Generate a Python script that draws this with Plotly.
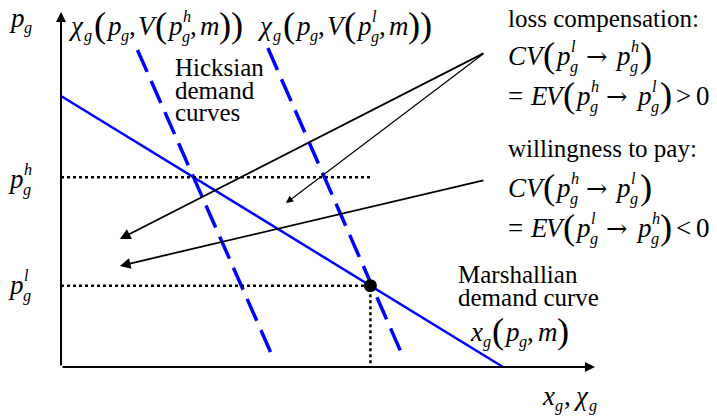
import plotly.graph_objects as go

# Marshallian demand: p = 10 - x
marsh_x = [0, 10]
marsh_p = [10, 0]

# Hicksian (compensated) demand curves at the two utility levels
hicks_h_x = [1.73, 4.82]
hicks_h_p = [11.7, 0.26]
hicks_l_x = [4.68, 7.74]
hicks_l_p = [11.77, 0.37]

# Price levels and the chosen quantity at the low price
p_high = 7
p_low = 3
x_high = 7
x_low = 7

# Pointer arrows from the welfare labels
arrow_tail_x = [9.59, 9.59, 9.59]
arrow_tail_p = [11.6, 11.6, 6.9]
arrow_head_x = [1.33, 5.09, 1.33]
arrow_head_p = [4.72, 6.05, 3.73]
arrow_width = [1.8, 1.2, 1.8]

W, H = 717, 416
# pixel position of the origin and pixels per unit
ox, oy = 61, 367
sx, sy = 44.2, 27.1
x_range = [-ox / sx, (W - ox) / sx]
y_range = [-(H - oy) / sy, oy / sy]

FONT = "Liberation Serif"
ARROW_FONT = "DejaVu Serif"
BLUE = "#0000ff"

fig = go.Figure()

fig.add_trace(go.Scatter(x=marsh_x, y=marsh_p, mode="lines",
                         line=dict(color=BLUE, width=2.5)))
fig.add_trace(go.Scatter(x=hicks_h_x, y=hicks_h_p, mode="lines",
                         line=dict(color=BLUE, width=3.5, dash="24px,10px")))
fig.add_trace(go.Scatter(x=hicks_l_x, y=hicks_l_p, mode="lines",
                         line=dict(color=BLUE, width=3.5, dash="24px,10px")))

# dotted guide lines
fig.add_trace(go.Scatter(x=[0, x_high], y=[p_high, p_high], mode="lines",
                         line=dict(color="black", width=2.5, dash="dot")))
fig.add_trace(go.Scatter(x=[0, x_low, x_low], y=[p_low, p_low, 0], mode="lines",
                         line=dict(color="black", width=2.5, dash="dot")))
fig.add_trace(go.Scatter(x=[x_low], y=[p_low], mode="markers",
                         marker=dict(color="black", size=13)))

annotations = []

# axes with arrow heads
annotations.append(dict(x=0, y=13.1, ax=0, ay=0, xref="x", yref="y",
                        axref="x", ayref="y", showarrow=True, arrowhead=2,
                        arrowsize=1, arrowwidth=2, arrowcolor="black", text=""))
annotations.append(dict(x=12.08, y=0, ax=0, ay=0, xref="x", yref="y",
                        axref="x", ayref="y", showarrow=True, arrowhead=2,
                        arrowsize=1, arrowwidth=2, arrowcolor="black", text=""))

for tx, tp, hx, hp, w in zip(arrow_tail_x, arrow_tail_p, arrow_head_x,
                             arrow_head_p, arrow_width):
    annotations.append(dict(x=hx, y=hp, ax=tx, ay=tp, xref="x", yref="y",
                            axref="x", ayref="y", showarrow=True, arrowhead=2,
                            arrowsize=1.2, arrowwidth=w, arrowcolor="black",
                            text=""))


def put(text, px, base, size, family=FONT):
    """Place a text run so that its baseline sits at pixel row `base`."""
    cy = base - 0.34 * size
    annotations.append(dict(text=text, x=px / W, y=1 - cy / H, xref="paper",
                            yref="paper", showarrow=False, xanchor="left",
                            yanchor="middle", borderpad=0, borderwidth=0,
                            font=dict(family=family, size=size, color="black")))


# glyph advance widths (em) for Times-metric fonts
REG = {"(": .333, ")": .333, ",": .25, " ": .25, "=": .564, "<": .564,
       ">": .564, "0": .5}
ITA = {"χ": .55, "p": .5, "g": .5, "V": .611, "m": .722, "h": .5, "l": .278,
       "C": .667, "E": .611, "x": .444}


def math(x0, base, toks, s):
    """Lay out a formula from tokens; numbers are extra spacing in em."""
    x = x0
    for t in toks:
        if isinstance(t, (int, float)):
            x += t * s
            continue
        kind, ch = t[0], t[1]
        if kind == "i":
            put("<i>" + ch + "</i>", x, base, s)
            x += ITA[ch] * s
        elif kind == "r":
            put(ch, x, base, s)
            x += REG[ch] * s
        elif kind == "arrow":
            put("→", x, base - 0.02 * s, 0.95 * s, family=ARROW_FONT)
            x += 0.838 * 0.95 * s
        elif kind == "big":
            bs = 1.35 * s
            put(ch, x, base + 0.1 * s, bs)
            x += REG[ch] * bs
        elif kind == "sub":
            ss = 0.6 * s
            x += 1.5
            put("<i>" + ch + "</i>", x, base + 0.25 * s, ss)
            x += ITA[ch] * ss
        elif kind == "st":  # stacked superscript / subscript
            ss = 0.6 * s
            x += 1.5
            put("<i>" + ch + "</i>", x + 1, base - 0.48 * s, ss)
            put("<i>" + t[2] + "</i>", x, base + 0.26 * s, ss)
            x += max(ITA[ch], ITA[t[2]]) * ss
    return x


def pg(sup):
    return [("i", "p"), ("st", sup, "g")]


def chi_expr(sup):
    return ([("i", "χ"), ("sub", "g"), 0.05, ("big", "("), ("i", "p"),
             ("sub", "g"), ("r", ","), 0.1, ("i", "V"), ("big", "(")]
            + pg(sup) + [("r", ","), 0.1, ("i", "m"), ("big", ")"), ("big", ")")])


def cv_expr(a, b):
    return ([("i", "C"), ("i", "V"), ("big", "(")] + pg(a)
            + [0.3, ("arrow", ""), 0.3] + pg(b) + [0.05, ("big", ")")])


def ev_expr(a, b, rel):
    return ([("r", "="), 0.25, ("i", "E"), ("i", "V"), ("big", "(")] + pg(a)
            + [0.3, ("arrow", ""), 0.3] + pg(b)
            + [0.05, ("big", ")"), 0.12, ("r", rel), 0.2, ("r", "0")])


MS = 27   # formula size
TS = 25   # prose size

# axis labels
math(9, 27, [("i", "p"), ("sub", "g")], MS)
math(8, 188, pg("h"), MS)
math(8, 294, pg("l"), MS)
math(542, 405, [("i", "x"), ("sub", "g"), ("r", ","), 0.1, ("i", "χ"), ("sub", "g")], MS)

# Hicksian curve labels
math(68, 35, chi_expr("h"), MS)
math(257, 35, chi_expr("l"), MS)
put("Hicksian", 175, 76, TS)
put("demand", 175, 99, TS)
put("curves", 175, 121, TS)

# welfare measures
put("loss compensation:", 508, 27, TS)
math(508, 65, cv_expr("l", "h"), MS)
math(508, 105, ev_expr("h", "l", ">"), MS)
put("willingness to pay:", 508, 157, TS)
math(508, 197, cv_expr("h", "l"), MS)
math(508, 237, ev_expr("l", "h", "<"), MS)

# Marshallian curve label
put("Marshallian", 458, 283, TS)
put("demand curve", 458, 306, TS)
math(470, 341, [("i", "x"), ("sub", "g"), ("big", "("), ("i", "p"), ("sub", "g"),
                ("r", ","), 0.15, ("i", "m"), ("big", ")")], MS)

fig.update_layout(
    width=W, height=H,
    margin=dict(l=0, r=0, t=0, b=0),
    paper_bgcolor="white", plot_bgcolor="white",
    showlegend=False,
    xaxis=dict(range=x_range, visible=False, fixedrange=True),
    yaxis=dict(range=y_range, visible=False, fixedrange=True),
    annotations=annotations,
)

fig.write_html("out.html")
